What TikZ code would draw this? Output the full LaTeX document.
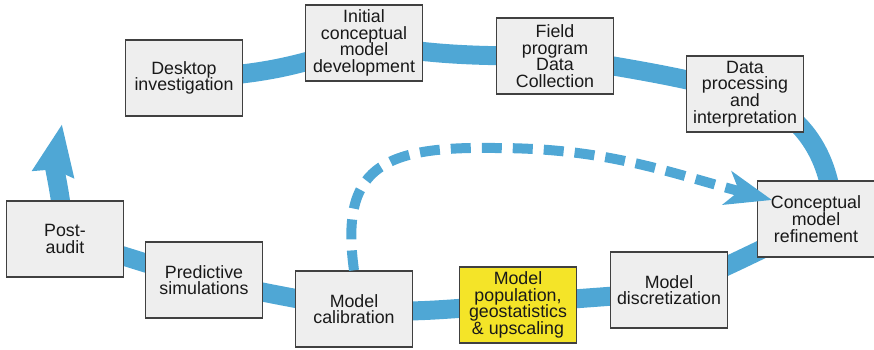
\documentclass[tikz,border=0pt]{standalone}
\usepackage{fontspec}
\setmainfont{Liberation Sans}
\usetikzlibrary{arrows.meta,backgrounds}
\definecolor{bandBlue}{RGB}{79,167,213}
\definecolor{boxGray}{RGB}{238,238,238}
\definecolor{boxYellow}{RGB}{244,228,40}
\definecolor{boxEdge}{RGB}{64,64,64}
\definecolor{textDark}{RGB}{25,25,25}

\begin{document}
\begin{tikzpicture}[x=1pt,y=1pt,
    stagebox/.style={draw=boxEdge, line width=1.4pt, fill=boxGray, text=textDark,
      minimum width=117pt, minimum height=76pt, inner sep=0pt, align=center,
      font=\fontsize{17.8pt}{16.7pt}\selectfont},
    band/.style={bandBlue, line width=19pt},
    loopback/.style={bandBlue, line width=10pt, dash pattern=on 20pt off 11pt}]
        \useasboundingbox (0,0) rectangle (874,349);
        % upper row
        \node[stagebox] (desk) at (184,271) {Desktop\\investigation};
        \node[stagebox] (init) at (364,306) {Initial\\conceptual\\model\\development};
        \node[stagebox] (field) at (555,293) {Field\\program\\Data\\Collection};
        \node[stagebox] (dproc) at (745,255) {Data\\processing\\and\\interpretation};
        \node[stagebox] (concept) at (816,130) {Conceptual\\model\\refinement};
        % lower row
        \node[stagebox] (disc) at (669,59) {Model\\discretization};
        \node[stagebox, fill=boxYellow] (pop) at (518,44) {Model\\population,\\geostatistics\\\& upscaling};
        \node[stagebox] (calib) at (354,40) {Model\\calibration};
        \node[stagebox] (pred) at (204,69) {Predictive\\simulations};
        \node[stagebox] (post) at (65,110) {Post-\\audit};
        \coordinate (restart) at (62,225);
        \coordinate (dtop) at (495,201);
        \coordinate (dtip) at (772,149);
        % the main cycle
        \begin{scope}[on background layer]
        \draw[band, -{Stealth[length=50pt,width=40pt,inset=4pt]}]
            (desk.center) to[out=2,in=200] (init.center)
            to[out=-10,in=180] (field.center)
            to[out=-10,in=165] (dproc.center)
            to[out=-15,in=90] ([xshift=17pt]concept.center)
            to[out=-160,in=20] (disc.center)
            to[out=188,in=8] (pop.center)
            to[out=182,in=-5] (calib.center)
            to[out=170,in=-12] (pred.center)
            to[out=165,in=-15] (post.center)
            to[out=95,in=-100] (restart);
        \end{scope}
        % iteration back to refinement
        \draw[loopback, -{Stealth[length=46pt,width=34pt,inset=12pt]}]
            (calib.north) .. controls (340,180) and (380,203) .. (dtop)
            to[out=0,in=165] (dtip);
\end{tikzpicture}
\end{document}
